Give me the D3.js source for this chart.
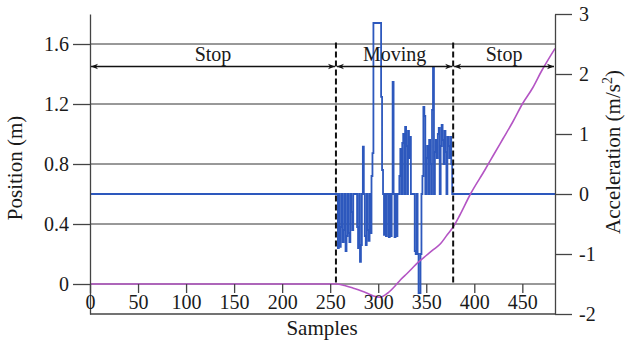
<!DOCTYPE html>
<html lang="en">
<head>
    <meta charset="UTF-8">
    <script src="https://d3js.org/d3.v7.min.js"></script>
    <title>Position and acceleration</title>
    <style>
        body { margin: 0; padding: 0; background: #fff; }
        svg text { font-family: "Times New Roman", "Liberation Serif", Times, serif !important; fill: #1a1a1a; }
    </style>
</head>
<body>
    <div id="chart"></div>
    <script>
        // ticks
        let xTicks = [0, 50, 100, 150, 200, 250, 300, 350, 400, 450]
        let posTicks = [0, 0.4, 0.8, 1.2, 1.6]
        let accTicks = [-2, -1, 0, 1, 2, 3]

        // position (m) read at some samples
        let posSamples = [0, 250, 256, 265, 275, 288, 295, 302, 310, 318, 323, 330, 342, 350, 357, 365, 372, 378, 385, 396, 411, 420, 430, 440, 450, 461, 470, 484]
        let posValues = [0, 0, 0, -0.01, -0.03, -0.06, -0.08, -0.088, -0.06, -0.01, 0.027, 0.07, 0.147, 0.19, 0.227, 0.27, 0.33, 0.38, 0.46, 0.6, 0.76, 0.86, 0.97, 1.08, 1.2, 1.31, 1.42, 1.57]

        // acceleration (m/s2), one value per sample from accStart on, zero elsewhere
        let accStart = 256
        let accValues = [
            0, 0, -0.9, 0, -0.88, -0.55, 0, -0.8, -0.6, 0, -0.95, -0.7, 0, -0.65, -0.8, 0, -0.3, -0.6, 0, 0, 0, 0,
            -0.55, -0.9, 0, -1.13, -0.85, 0, 0.79, 0, -0.7, -0.85, 0, -0.6, -0.78, 0, -0.65, 0.3, 0.68,
            2.85, 2.85, 2.85, 2.85, 2.85, 2.85, 2.85, 2.85, 1.62, 0.4, 0, -0.68, 0, -0.7, 0, 0, -0.72, 0, -0.7, 0,
            1.87, 0, -0.72, 0, -0.7, 0, 0, 0.3,
            0.75, 0, 0.85, 1.0, 0, 1.12, 0.8, 0, 1.05, 0.6, 0.95, 0, 0, 0, 0, -0.95, -1.0, 0, -1.0, -1.65, -1.65, -1.0, 0,
            0.3, 1.45, 1.3, 0, 0.6, 0.8, 0, 0.9, 0.5, 0, 1.4, 2.1, 0, 0.7, 0.9, 0.6, 1.0, 1.1, 0, 0.8, 1.15, 0.9, 0.5,
            1.05, 0.7, 0, 0.95, 0.8, 0.6, 0.95, 0.5, 0, 0
        ]
        let lastSample = 484

        // phases
        let phaseEdges = [0, 256, 378, 484]
        let phaseNames = ["Stop", "Moving", "Stop"]

        let W = 626, H = 340
        let svg = d3.select("#chart").append("svg").attr("width", W).attr("height", H)

        let x = d3.scaleLinear().domain([0, 484]).range([90, 555])
        let yPos = d3.scaleLinear().domain([-0.2, 1.8]).range([314, 14])
        let yAcc = d3.scaleLinear().domain([-2, 3]).range([314, 14])

        // grid
        svg.append("g").selectAll("line").data(posTicks).enter().append("line")
            .attr("x1", x(0)).attr("x2", x(484))
            .attr("y1", d => yPos(d)).attr("y2", d => yPos(d))
            .attr("stroke", "#333").attr("stroke-width", 1)

        // bottom frame
        svg.append("line").attr("x1", x(0)).attr("x2", x(484)).attr("y1", 314).attr("y2", 314)
            .attr("stroke", "#444").attr("stroke-width", 1.5)

        // acceleration
        let accPts = [[0, 0]]
        accValues.forEach((v, i) => accPts.push([accStart + i, v]))
        accPts.push([lastSample, 0])
        let accLine = d3.line().x(d => x(d[0])).y(d => yAcc(d[1])).curve(d3.curveStepAfter)
        svg.append("path").datum(accPts).attr("d", accLine)
            .attr("fill", "none").attr("stroke", "#2d58bd").attr("stroke-width", 1.8)

        // position
        let posLine = d3.line().x((d, i) => x(posSamples[i])).y(d => yPos(d)).curve(d3.curveMonotoneX)
        svg.append("path").datum(posValues).attr("d", posLine)
            .attr("fill", "none").attr("stroke", "#b455c4").attr("stroke-width", 1.6)

        // phase boundaries
        svg.append("g").selectAll("line").data(phaseEdges.slice(1, 3)).enter().append("line")
            .attr("x1", d => x(d)).attr("x2", d => x(d))
            .attr("y1", yPos(1.61)).attr("y2", yPos(0))
            .attr("stroke", "#111").attr("stroke-width", 2).attr("stroke-dasharray", "6,3")

        // arrows
        let defs = svg.append("defs")
        defs.append("marker").attr("id", "ah").attr("viewBox", "0 0 10 10")
            .attr("refX", 10).attr("refY", 5).attr("markerWidth", 7).attr("markerHeight", 7)
            .attr("orient", "auto-start-reverse").attr("markerUnits", "userSpaceOnUse")
            .append("path").attr("d", "M0,1 L10,5 L0,9 L3,5 Z").attr("fill", "#111")
        let arrY = yPos(1.45)
        let phases = phaseNames.map((n, i) => ({ name: n, a: phaseEdges[i], b: phaseEdges[i + 1] }))
        svg.append("g").selectAll("line").data(phases).enter().append("line")
            .attr("x1", d => x(d.a) + 1).attr("x2", d => x(d.b) - 1)
            .attr("y1", arrY).attr("y2", arrY)
            .attr("stroke", "#111").attr("stroke-width", 1.6)
            .attr("marker-start", "url(#ah)").attr("marker-end", "url(#ah)")
        svg.append("g").selectAll("text").data(phases).enter().append("text")
            .attr("x", d => (x(d.a) + x(d.b)) / 2).attr("y", arrY - 6)
            .attr("text-anchor", "middle").attr("font-size", 20)
            .text(d => d.name)

        // left axis
        let gl = svg.append("g").attr("transform", "translate(" + x(0) + ",0)")
            .call(d3.axisLeft(yPos).tickValues(posTicks).tickSize(17).tickSizeOuter(0).tickPadding(4).tickFormat(d => String(d)))
        gl.attr("font-family", null)
        gl.selectAll("text").attr("font-size", 20)
        gl.selectAll("line, path").attr("stroke", "#444").attr("stroke-width", 1.3)

        // right axis
        let gr = svg.append("g").attr("transform", "translate(" + x(484) + ",0)")
            .call(d3.axisRight(yAcc).tickValues(accTicks).tickSize(17).tickSizeOuter(0).tickPadding(7).tickFormat(d => String(d)))
        gr.attr("font-family", null)
        gr.selectAll("text").attr("font-size", 20)
        gr.selectAll("line, path").attr("stroke", "#444").attr("stroke-width", 1.3)

        // bottom ticks sit on position zero
        let gb = svg.append("g").attr("transform", "translate(0," + yPos(0) + ")")
            .call(d3.axisBottom(x).tickValues(xTicks).tickSize(9).tickPadding(2))
        gb.attr("font-family", null)
        gb.select(".domain").remove()
        gb.selectAll("text").attr("font-size", 20)
        gb.selectAll("line").attr("stroke", "#444").attr("stroke-width", 1.3)

        // titles
        svg.append("text").attr("x", 322).attr("y", 335).attr("text-anchor", "middle")
            .attr("font-size", 21).text("Samples")
        svg.append("text").attr("transform", "translate(22,168) rotate(-90)")
            .attr("text-anchor", "middle").attr("font-size", 21).text("Position (m)")
        let at = svg.append("text").attr("transform", "translate(620,152) rotate(-90)")
            .attr("text-anchor", "middle").attr("font-size", 21)
        at.append("tspan").text("Acceleration (m/s")
        at.append("tspan").attr("font-size", 14).attr("dy", -8).text("2")
        at.append("tspan").attr("dy", 8).text(")")
    </script>
</body>
</html>
